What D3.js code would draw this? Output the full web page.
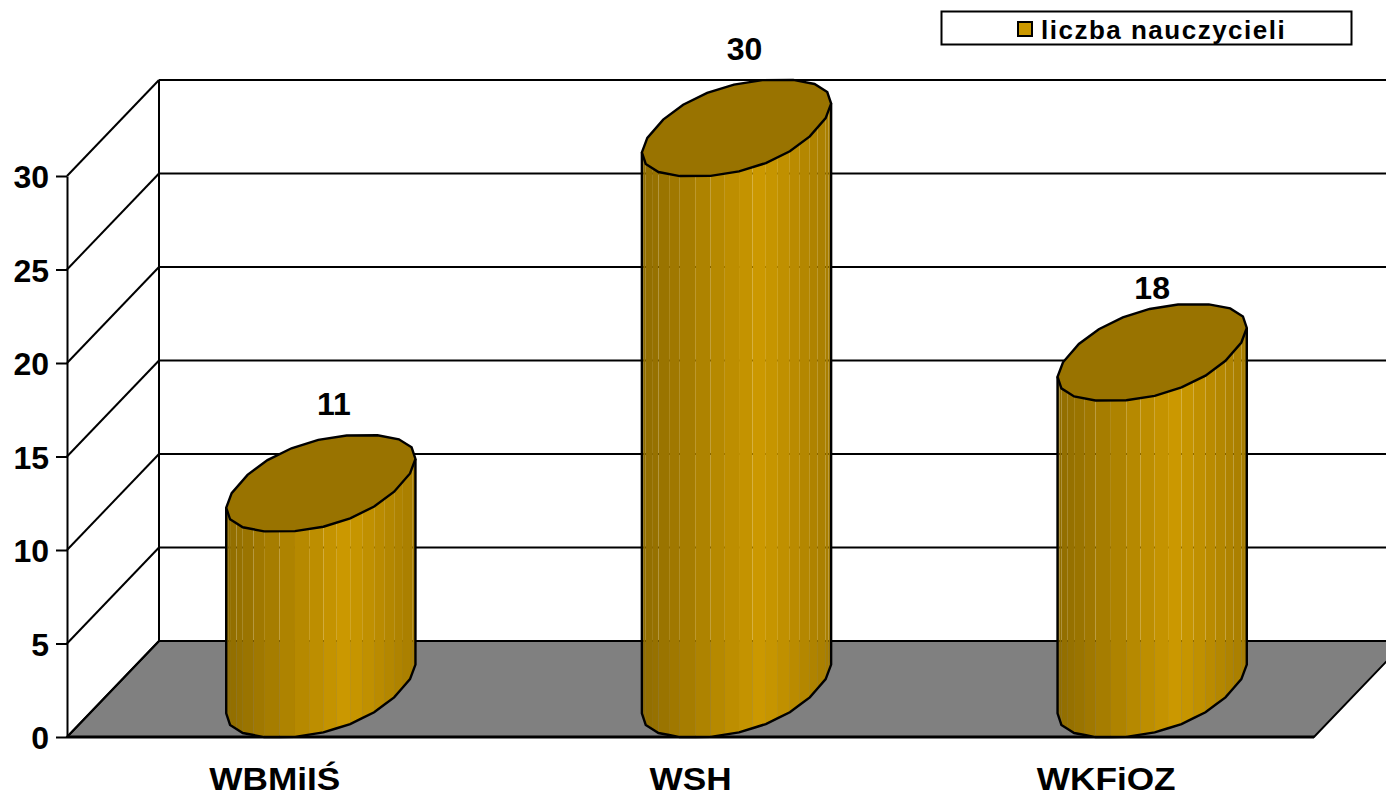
<!DOCTYPE html>
<html>
<head>
<meta charset="utf-8">
<script src="https://cdn.jsdelivr.net/npm/d3@7"></script>
<style>
  html, body { margin: 0; padding: 0; background: #fff; overflow: hidden; }
  svg { display: block; }
  text { font-family: "Liberation Sans", Arial, sans-serif; font-weight: bold; fill: #000; }
</style>
</head>
<body>
<svg id="chart"></svg>
<script>
"use strict";

const categories = ['WBMiIŚ', 'WSH', 'WKFiOZ'];
const values = [11, 30, 18];
const yTicks = [0, 5, 10, 15, 20, 25, 30];
const seriesName = 'liczba nauczycieli';

// value labels do not sit at a regular place in the original
const labelNudge = [[13, 0], [8, 0], [0, 15]];

const width = 1386, height = 796;

// 3d box: front plane plus a shift for the back wall
const depth = { x: 92, y: -96 };
const plot = { left: 67, right: 1314, bottom: 737, top: 176 };

// cylinder base in the floor plane, the original is a coarse and slightly boxy ring
const radius = { u: 81.5, dx: 43, dy: 48.5 };
const sides = 20;
const boxy = 0.9;

const x = d3.scaleBand().domain(categories).range([plot.left, plot.right]);
const y = d3.scaleLinear().domain([0, 30]).range([plot.bottom, plot.top]);

const svg = d3.select('#chart')
  .attr('width', width)
  .attr('height', height)
  .attr('viewBox', `0 0 ${width} ${height}`);

// floor
svg.append('polygon')
  .attr('points', [
    [plot.left, y(0)],
    [plot.left + depth.x, y(0) + depth.y],
    [plot.right + depth.x, y(0) + depth.y],
    [plot.right, y(0)]
  ].join(' '))
  .attr('fill', '#808080')
  .attr('stroke', '#000')
  .attr('stroke-width', 2);

// gridlines on back and side wall
const grid = svg.append('g')
  .attr('fill', 'none')
  .attr('stroke', '#000')
  .attr('stroke-width', 2);

grid.selectAll('.back')
  .data(yTicks)
  .enter().append('line')
  .attr('class', 'back')
  .attr('x1', plot.left + depth.x)
  .attr('x2', plot.right + depth.x)
  .attr('y1', d => y(d) + depth.y)
  .attr('y2', d => y(d) + depth.y);

grid.selectAll('.side')
  .data(yTicks)
  .enter().append('line')
  .attr('class', 'side')
  .attr('x1', plot.left)
  .attr('x2', plot.left + depth.x)
  .attr('y1', d => y(d))
  .attr('y2', d => y(d) + depth.y);

grid.append('line')
  .attr('x1', plot.left + depth.x)
  .attr('x2', plot.left + depth.x)
  .attr('y1', y(0) + depth.y)
  .attr('y2', y(30) + depth.y);

// axis
const yAxis = d3.axisLeft(y)
  .tickValues(yTicks)
  .tickSizeInner(11)
  .tickSizeOuter(0)
  .tickPadding(7);

const axisG = svg.append('g')
  .attr('transform', `translate(${plot.left},0)`)
  .call(yAxis);
axisG.selectAll('path, line').attr('stroke', '#000').attr('stroke-width', 2);
axisG.selectAll('text').attr('font-size', 32).attr('font-family', null).attr('dy', '0.36em');

svg.append('line')
  .attr('x1', plot.left)
  .attr('x2', plot.right)
  .attr('y1', y(0))
  .attr('y2', y(0))
  .attr('stroke', '#000')
  .attr('stroke-width', 3);

// category labels, wider than the font in the original
svg.selectAll('.cat')
  .data(categories)
  .enter().append('text')
  .attr('class', 'cat')
  .attr('transform', d => `translate(${x(d) + x.bandwidth() / 2},789.5) scale(1.1,1)`)
  .attr('text-anchor', 'middle')
  .attr('font-size', 32)
  .text(d => d);

// shading over the width of the cylinder, 0 = left edge, 1 = right edge
const shade = d3.scaleLinear()
  .domain([0, 0.63, 1])
  .range(['#8f6c00', '#cc9900', '#a67c00']);

const boxed = v => Math.sign(v) * Math.pow(Math.abs(v), boxy);

// one point of the ring around a cylinder axis
const ring = (cx, cy, t) => {
  const c = boxed(Math.cos(t)), s = boxed(Math.sin(t));
  return [cx + radius.u * c + radius.dx * s, cy - radius.dy * s];
};

const t0 = Math.atan2(radius.dx, radius.u);
const angles = d3.range(sides + 1).map(i => t0 + Math.PI + i * 2 * Math.PI / sides);
const frontAngles = angles.slice(0, sides / 2 + 1);

// the side has two strips per ring side
const halfway = (p, q) => [(p[0] + q[0]) / 2, (p[1] + q[1]) / 2];
const frontPoints = (cx, cy) => {
  const pts = [];
  frontAngles.forEach((t, i) => {
    const p = ring(cx, cy, t);
    if (i > 0) pts.push(halfway(pts[pts.length - 1], p));
    pts.push(p);
  });
  return pts;
};

const halfWidth = d3.max(d3.range(0, 360).map(a => ring(0, 0, a * Math.PI / 180)[0]));

const bars = svg.selectAll('.bar')
  .data(categories.map((c, i) => ({ name: c, value: values[i], nudge: labelNudge[i] })))
  .enter().append('g')
  .attr('class', 'bar');

bars.each(function (d) {
  const g = d3.select(this);
  const cx = x(d.name) + x.bandwidth() / 2 + depth.x / 2;
  const cyBase = y(0) + depth.y / 2;
  const cyTop = y(d.value) + depth.y / 2;

  const top = frontPoints(cx, cyTop);
  const base = frontPoints(cx, cyBase);

  // side strips
  for (let i = 0; i < top.length - 1; i++) {
    const mid = (top[i][0] + top[i + 1][0]) / 2 - cx;
    g.append('polygon')
      .attr('points', [top[i], top[i + 1], base[i + 1], base[i]].join(' '))
      .attr('fill', shade(mid / (2 * halfWidth) + 0.5));
  }

  // outline of the side
  g.append('path')
    .attr('d', d3.line()([top[0]].concat(base, [top[top.length - 1]])))
    .attr('fill', 'none')
    .attr('stroke', '#000')
    .attr('stroke-width', 2.4);

  // lid
  g.append('path')
    .attr('d', d3.line()(angles.slice(0, -1).map(t => ring(cx, cyTop, t))) + 'Z')
    .attr('fill', '#997300')
    .attr('stroke', '#000')
    .attr('stroke-width', 2.4);

  // value label
  g.append('text')
    .attr('x', cx + d.nudge[0])
    .attr('y', cyTop - radius.dy - 20 + d.nudge[1])
    .attr('text-anchor', 'middle')
    .attr('font-size', 32)
    .text(d.value);
});

// legend
const legend = svg.append('g');
legend.append('rect')
  .attr('x', 941.5).attr('y', 11.5)
  .attr('width', 410).attr('height', 33)
  .attr('fill', '#fff')
  .attr('stroke', '#000')
  .attr('stroke-width', 2);
legend.append('rect')
  .attr('x', 1018).attr('y', 22)
  .attr('width', 14).attr('height', 14)
  .attr('fill', '#cc9900')
  .attr('stroke', '#000')
  .attr('stroke-width', 2);
legend.append('text')
  .attr('x', 1041).attr('y', 39)
  .attr('font-size', 26)
  .attr('letter-spacing', 1.5)
  .text(seriesName);
</script>
</body>
</html>
